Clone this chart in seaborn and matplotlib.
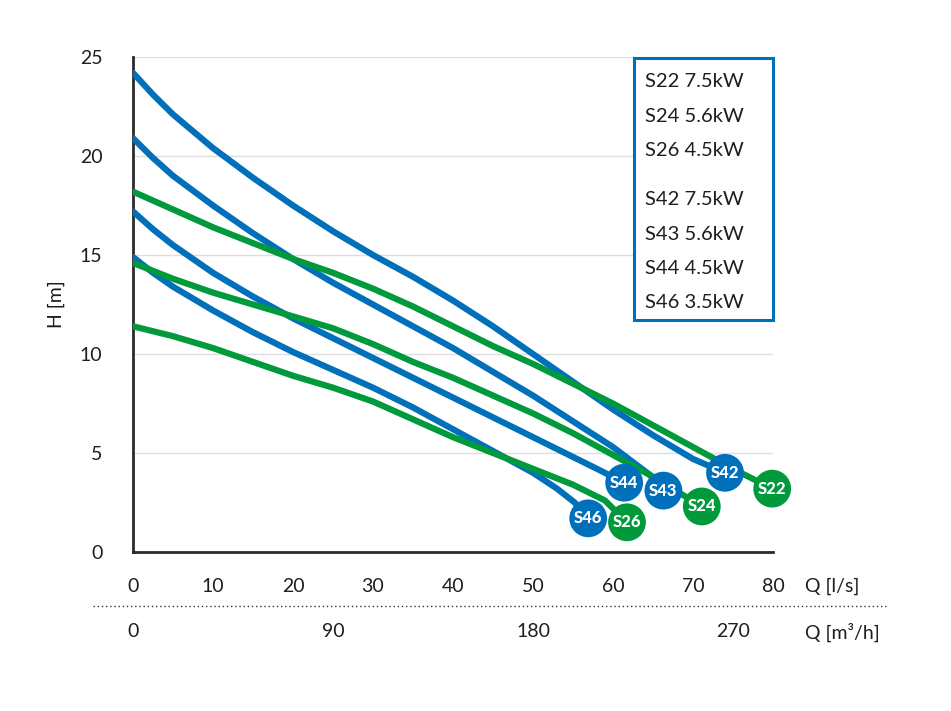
import numpy as np
import pandas as pd
import matplotlib
matplotlib.use("Agg")
import matplotlib.pyplot as plt
from matplotlib.patches import Rectangle
from matplotlib.lines import Line2D
import seaborn as sns

# === Pump curves (Q in l/s, H in m) ===
s42_q = [0, 2.5, 5, 10, 15, 20, 25, 30, 35, 40, 45, 50, 55, 60, 65, 70, 74]
s42_h = [24.2, 23.1, 22.1, 20.4, 18.9, 17.5, 16.2, 15.0, 13.9, 12.7, 11.4, 10.0, 8.6, 7.2, 5.9, 4.7, 4.0]

s43_q = [0, 2.5, 5, 10, 15, 20, 25, 30, 35, 40, 45, 50, 55, 60, 64.6, 66.3]
s43_h = [20.9, 19.9, 19.0, 17.5, 16.1, 14.8, 13.6, 12.5, 11.4, 10.3, 9.1, 7.9, 6.6, 5.3, 3.9, 3.1]

s44_q = [0, 2.5, 5, 10, 15, 20, 25, 30, 35, 40, 45, 50, 55, 58, 61.4]
s44_h = [17.2, 16.3, 15.5, 14.1, 12.9, 11.8, 10.8, 9.8, 8.8, 7.8, 6.8, 5.8, 4.8, 4.2, 3.5]

s46_q = [0, 2.5, 5, 10, 15, 20, 25, 30, 35, 40, 45, 50, 53, 55.2, 56.9]
s46_h = [14.9, 14.1, 13.4, 12.2, 11.1, 10.1, 9.2, 8.3, 7.3, 6.2, 5.1, 4.0, 3.2, 2.5, 1.7]

s22_q = [0, 5, 10, 15, 20, 25, 30, 35, 40, 45, 50, 55, 60, 65, 70, 75, 79.9]
s22_h = [18.2, 17.3, 16.4, 15.6, 14.8, 14.1, 13.3, 12.4, 11.4, 10.4, 9.5, 8.5, 7.5, 6.4, 5.3, 4.2, 3.2]

s24_q = [0, 5, 10, 15, 20, 25, 30, 35, 40, 45, 50, 55, 60, 65, 71.1]
s24_h = [14.6, 13.8, 13.1, 12.5, 11.9, 11.3, 10.5, 9.6, 8.8, 7.9, 7.0, 6.0, 4.9, 3.8, 2.3]

s26_q = [0, 5, 10, 15, 20, 25, 30, 35, 40, 45, 50, 55, 59, 61.75]
s26_h = [11.4, 10.9, 10.3, 9.6, 8.9, 8.3, 7.6, 6.7, 5.8, 5.0, 4.2, 3.4, 2.6, 1.5]

legend_labels = ["S22 7.5kW", "S24 5.6kW", "S26 4.5kW",
                 "S42 7.5kW", "S43 5.6kW", "S44 4.5kW", "S46 3.5kW"]
x_ticks = [0, 10, 20, 30, 40, 50, 60, 70, 80]
y_ticks = [0, 5, 10, 15, 20, 25]
m3h_ticks = [0, 90, 180, 270]

BLUE = "#0070BB"
GREEN = "#00993B"
TXT = "#1e1e1e"

curves = {
    "S42": (s42_q, s42_h), "S43": (s43_q, s43_h), "S44": (s44_q, s44_h),
    "S46": (s46_q, s46_h), "S22": (s22_q, s22_h), "S24": (s24_q, s24_h),
    "S26": (s26_q, s26_h),
}
palette = {k: (BLUE if k.startswith("S4") else GREEN) for k in curves}

df = pd.concat([pd.DataFrame({"model": k, "Q": q, "H": h})
                for k, (q, h) in curves.items()], ignore_index=True)
ends = df.groupby("model", sort=False).tail(1)

sns.set_style("white")
plt.rcParams["font.family"] = ["Lato", "DejaVu Sans"]

fig = plt.figure(figsize=(9.51, 7.11), dpi=100)
ax = fig.add_axes([133 / 951, 1 - 552 / 711, 640 / 951, 495 / 711])

ax.set_axisbelow(True)
ax.grid(axis="y", color="#dedede", lw=1)
sns.lineplot(data=df, x="Q", y="H", hue="model", palette=palette, lw=4.5,
             sort=False, estimator=None, legend=False, ax=ax, zorder=3,
             solid_joinstyle="round", solid_capstyle="round")
# end-of-curve badges
sns.scatterplot(data=ends, x="Q", y="H", hue="model", palette=palette, s=740,
                linewidth=0, legend=False, ax=ax, zorder=5, clip_on=False)
for _, r in ends.iterrows():
    ax.text(r["Q"], r["H"], r["model"], color="white", fontsize=12,
            fontweight="black", ha="center", va="center", zorder=6)

ax.set_xlim(0, 80)
ax.set_ylim(0, 25)
ax.set_xticks(x_ticks)
ax.set_yticks(y_ticks)
ax.set_xlabel("")
ax.set_ylabel("H [m]", fontsize=14, color=TXT)
ax.yaxis.set_label_coords(-0.107, 0.5)
for s in ["top", "right"]:
    ax.spines[s].set_visible(False)
for s in ["left", "bottom"]:
    ax.spines[s].set_color("#2a2a2a")
    ax.spines[s].set_linewidth(2)
ax.tick_params(axis="x", length=7, width=1, color="#cfcfcf", pad=12,
               labelsize=14, labelcolor=TXT)
ax.tick_params(axis="y", length=0, pad=22, labelsize=14, labelcolor=TXT)
ax.text(1.05, -0.069, "Q [l/s]", transform=ax.transAxes, fontsize=14,
        color=TXT, ha="left", va="center")

# second flow scale in m3/h
sec = ax.secondary_xaxis(-0.135, functions=(lambda q: q * 3.6, lambda m: m / 3.6))
sec.set_xticks(m3h_ticks)
sec.spines["bottom"].set_visible(False)
sec.tick_params(length=0, pad=3, labelsize=14, labelcolor=TXT)
ax.text(1.05, -0.162, "Q [m³/h]", transform=ax.transAxes, fontsize=14,
        color=TXT, ha="left", va="center")
fig.add_artist(Line2D([93 / 951, 888 / 951], [1 - 606 / 711] * 2,
                      ls=(0, (1, 2)), color="#333333", lw=1))

# model box
ax.add_patch(Rectangle((0.7825, 0.468), 0.2175, 0.53, transform=ax.transAxes,
                       fill=True, fc="white", ec=BLUE, lw=2.2, zorder=7,
                       clip_on=False))
ys = [0.9496, 0.8808, 0.812, 0.7112, 0.6424, 0.5736, 0.5032]
for lab, y in zip(legend_labels, ys):
    ax.text(0.80, y, lab, transform=ax.transAxes, fontsize=14.5, color=TXT,
            ha="left", va="center", zorder=8)

fig.savefig("out.png", dpi=100)
